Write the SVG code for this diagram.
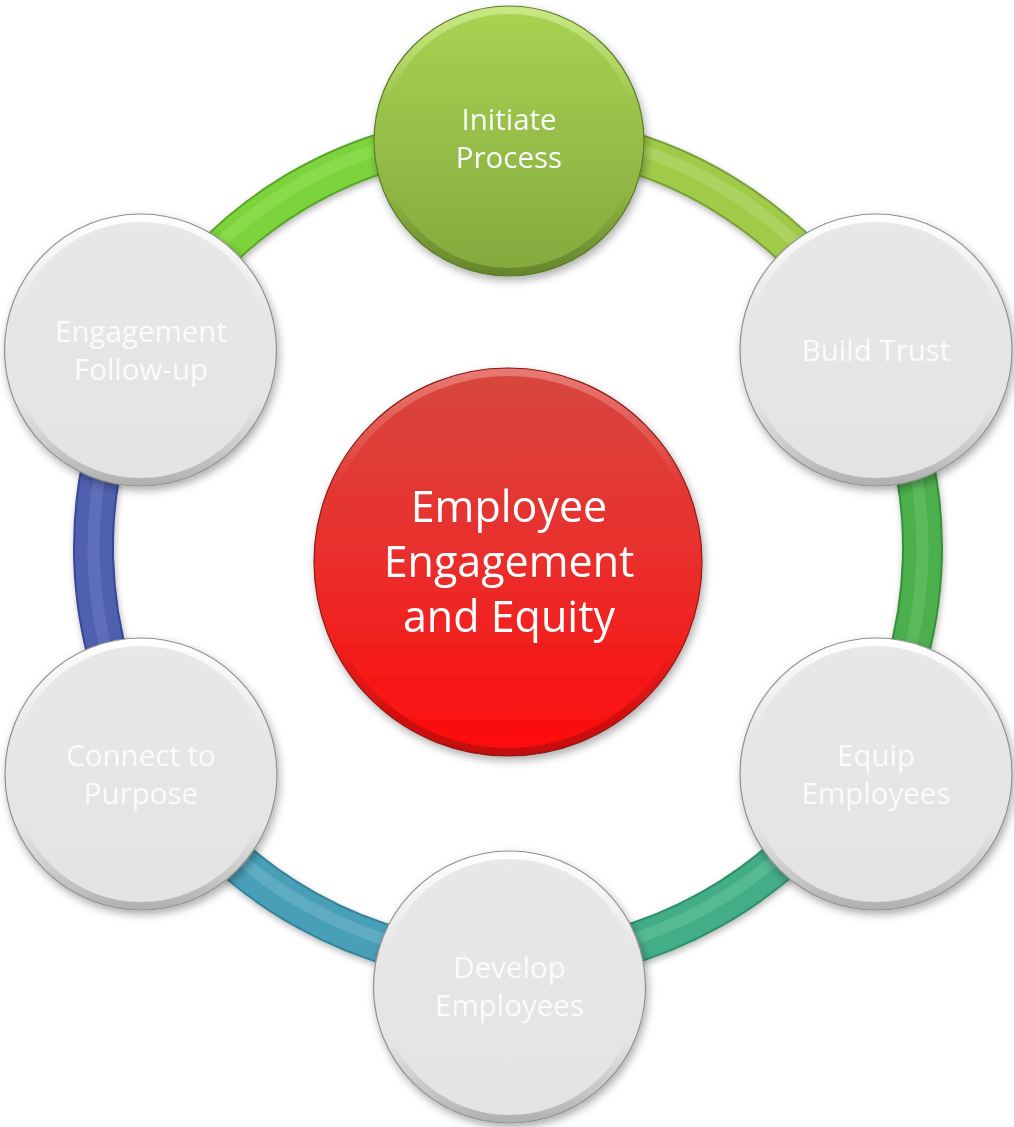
<svg xmlns="http://www.w3.org/2000/svg" width="1014" height="1127" viewBox="0 0 1014 1127">
  <defs>
    <style>
      .lbl { font-family: "Open Sans", "Liberation Sans", sans-serif; font-size: 29.5px; fill: #fbfbfb; text-anchor: middle; }
      .hub-lbl { font-family: "Open Sans", "Liberation Sans", sans-serif; font-size: 43px; fill: #ffffff; text-anchor: middle; }
      .tube-edge { fill: none; stroke-width: 41; }
      .tube { fill: none; stroke-width: 37; }
      .tube-hi { fill: none; stroke-width: 12; stroke-opacity: 0.28; }
      .disc { fill: url(#greyFill); }
      .bevel { fill: none; stroke: url(#bevelGrad); stroke-width: 8; }
      .rim { fill: none; stroke: #909090; stroke-width: 1.2; }
    </style>
    <filter id="shadow" x="-20%" y="-20%" width="140%" height="140%">
      <feDropShadow dx="2" dy="4" stdDeviation="4" flood-color="#000" flood-opacity="0.32"/>
    </filter>
    <filter id="tubeShadow" x="-10%" y="-10%" width="120%" height="120%">
      <feDropShadow dx="1" dy="3" stdDeviation="3" flood-color="#000" flood-opacity="0.28"/>
    </filter>
    <linearGradient id="greyFill" x1="0" y1="0" x2="0" y2="1">
      <stop offset="0" stop-color="#e8e8e8"/>
      <stop offset="1" stop-color="#e3e3e3"/>
    </linearGradient>
    <linearGradient id="bevelGrad" x1="0" y1="0" x2="0" y2="1">
      <stop offset="0" stop-color="#ffffff" stop-opacity="0.95"/>
      <stop offset="0.35" stop-color="#ffffff" stop-opacity="0"/>
      <stop offset="0.7" stop-color="#9a9a9a" stop-opacity="0"/>
      <stop offset="1" stop-color="#8a8a8a" stop-opacity="0.55"/>
    </linearGradient>
    <linearGradient id="greenFill" x1="0" y1="0" x2="0" y2="1">
      <stop offset="0" stop-color="#a8d352"/>
      <stop offset="1" stop-color="#84a93d"/>
    </linearGradient>
    <linearGradient id="greenBevel" x1="0" y1="0" x2="0" y2="1">
      <stop offset="0" stop-color="#d6f09a" stop-opacity="0.7"/>
      <stop offset="0.35" stop-color="#d6f09a" stop-opacity="0"/>
      <stop offset="0.7" stop-color="#4e6a1e" stop-opacity="0"/>
      <stop offset="1" stop-color="#4e6a1e" stop-opacity="0.55"/>
    </linearGradient>
    <linearGradient id="redFill" x1="0" y1="0" x2="0" y2="1">
      <stop offset="0" stop-color="#d6473f"/>
      <stop offset="0.5" stop-color="#ea2e2c"/>
      <stop offset="1" stop-color="#ff0b0b"/>
    </linearGradient>
    <linearGradient id="redBevel" x1="0" y1="0" x2="0" y2="1">
      <stop offset="0" stop-color="#f39a92" stop-opacity="0.6"/>
      <stop offset="0.3" stop-color="#f39a92" stop-opacity="0"/>
      <stop offset="0.7" stop-color="#7a0a0a" stop-opacity="0"/>
      <stop offset="1" stop-color="#7a0a0a" stop-opacity="0.45"/>
    </linearGradient>
  </defs>

  <rect width="1014" height="1127" fill="#ffffff"/>

  <!-- ring segments joining neighbouring steps -->
  <g id="connectors" filter="url(#tubeShadow)">
    <!-- Initiate Process to Build Trust -->
    <g id="arc-initiate-trust">
      <path class="tube-edge" stroke="#7c9f3a" d="M508.7,133.5 A414.5,414.5 0 0 1 873,351.5"/>
      <path class="tube" stroke="#9fcb48" d="M508.7,133.5 A414.5,414.5 0 0 1 873,351.5"/>
      <path class="tube-hi" stroke="#d2eb98" d="M508.7,128.5 A419.5,419.5 0 0 1 877.4,349.1"/>
    </g>
    <!-- Build Trust to Equip Employees -->
    <g id="arc-trust-equip">
      <path class="tube-edge" stroke="#36903a" d="M873,351.5 A414.5,414.5 0 0 1 861,765.2"/>
      <path class="tube" stroke="#4caf4c" d="M873,351.5 A414.5,414.5 0 0 1 861,765.2"/>
      <path class="tube-hi" stroke="#8ad486" d="M873,351.5 A414.5,414.5 0 0 1 861,765.2"/>
    </g>
    <!-- Equip Employees to Develop Employees -->
    <g id="arc-equip-develop">
      <path class="tube-edge" stroke="#2f9068" d="M861,765.2 A414.5,414.5 0 0 1 509.4,962.5"/>
      <path class="tube" stroke="#42ad86" d="M861,765.2 A414.5,414.5 0 0 1 509.4,962.5"/>
      <path class="tube-hi" stroke="#8ad6b8" d="M857.6,762.9 A410.5,410.5 0 0 1 509.4,958.5"/>
    </g>
    <!-- Develop Employees to Connect to Purpose -->
    <g id="arc-develop-connect">
      <path class="tube-edge" stroke="#34849a" d="M509.4,962.5 A414.5,414.5 0 0 1 155,765.2"/>
      <path class="tube" stroke="#4a9fb8" d="M509.4,962.5 A414.5,414.5 0 0 1 155,765.2"/>
      <path class="tube-hi" stroke="#94cede" d="M509.4,958.5 A410.5,410.5 0 0 1 158.4,762.9"/>
    </g>
    <!-- Connect to Purpose to Engagement Follow-up -->
    <g id="arc-connect-followup">
      <path class="tube-edge" stroke="#3a4792" d="M155,765.2 A414.5,414.5 0 0 1 143,351.5"/>
      <path class="tube" stroke="#5060b0" d="M155,765.2 A414.5,414.5 0 0 1 143,351.5"/>
      <path class="tube-hi" stroke="#8894d2" d="M155,765.2 A414.5,414.5 0 0 1 143,351.5"/>
    </g>
    <!-- Engagement Follow-up to Initiate Process -->
    <g id="arc-followup-initiate">
      <path class="tube-edge" stroke="#5aa42c" d="M143,351.5 A414.5,414.5 0 0 1 508.7,133.5"/>
      <path class="tube" stroke="#7bd33a" d="M143,351.5 A414.5,414.5 0 0 1 508.7,133.5"/>
      <path class="tube-hi" stroke="#b4f07e" d="M138.6,349.1 A419.5,419.5 0 0 1 508.7,128.5"/>
    </g>
  </g>

  <!-- central hub -->
  <g id="node-hub" filter="url(#shadow)">
    <circle cx="508" cy="562" r="194" fill="url(#redFill)"/>
    <circle cx="508" cy="562" r="190" fill="none" stroke="url(#redBevel)" stroke-width="8"/>
    <circle cx="508" cy="562" r="194" fill="none" stroke="#8c1c18" stroke-width="1.2"/>
    <text class="hub-lbl" x="509" y="522">Employee</text>
    <text class="hub-lbl" x="509" y="577">Engagement</text>
    <text class="hub-lbl" x="509" y="632">and Equity</text>
  </g>

  <!-- steps around the ring -->
  <g id="node-initiate" filter="url(#shadow)">
    <circle cx="509" cy="141" r="135" fill="url(#greenFill)"/>
    <circle cx="509" cy="141" r="131" fill="none" stroke="url(#greenBevel)" stroke-width="8"/>
    <circle cx="509" cy="141" r="135" fill="none" stroke="#5d7a28" stroke-width="1.2"/>
    <text class="lbl" x="509" y="130">Initiate</text>
    <text class="lbl" x="509" y="168">Process</text>
  </g>

  <g id="node-build-trust" filter="url(#shadow)">
    <circle class="disc" cx="876" cy="350" r="136"/>
    <circle class="bevel" cx="876" cy="350" r="132"/>
    <circle class="rim" cx="876" cy="350" r="136"/>
    <text class="lbl" x="876" y="361">Build Trust</text>
  </g>

  <g id="node-equip" filter="url(#shadow)">
    <circle class="disc" cx="876" cy="774" r="136"/>
    <circle class="bevel" cx="876" cy="774" r="132"/>
    <circle class="rim" cx="876" cy="774" r="136"/>
    <text class="lbl" x="876" y="766">Equip</text>
    <text class="lbl" x="876" y="804">Employees</text>
  </g>

  <g id="node-develop" filter="url(#shadow)">
    <circle class="disc" cx="509.5" cy="987" r="136"/>
    <circle class="bevel" cx="509.5" cy="987" r="132"/>
    <circle class="rim" cx="509.5" cy="987" r="136"/>
    <text class="lbl" x="509.5" y="978">Develop</text>
    <text class="lbl" x="509.5" y="1016">Employees</text>
  </g>

  <g id="node-connect" filter="url(#shadow)">
    <circle class="disc" cx="141" cy="774" r="136"/>
    <circle class="bevel" cx="141" cy="774" r="132"/>
    <circle class="rim" cx="141" cy="774" r="136"/>
    <text class="lbl" x="141" y="766">Connect to</text>
    <text class="lbl" x="141" y="804">Purpose</text>
  </g>

  <g id="node-followup" filter="url(#shadow)">
    <circle class="disc" cx="140.5" cy="350" r="136"/>
    <circle class="bevel" cx="140.5" cy="350" r="132"/>
    <circle class="rim" cx="140.5" cy="350" r="136"/>
    <text class="lbl" x="141" y="342">Engagement</text>
    <text class="lbl" x="141" y="380">Follow-up</text>
  </g>
</svg>
